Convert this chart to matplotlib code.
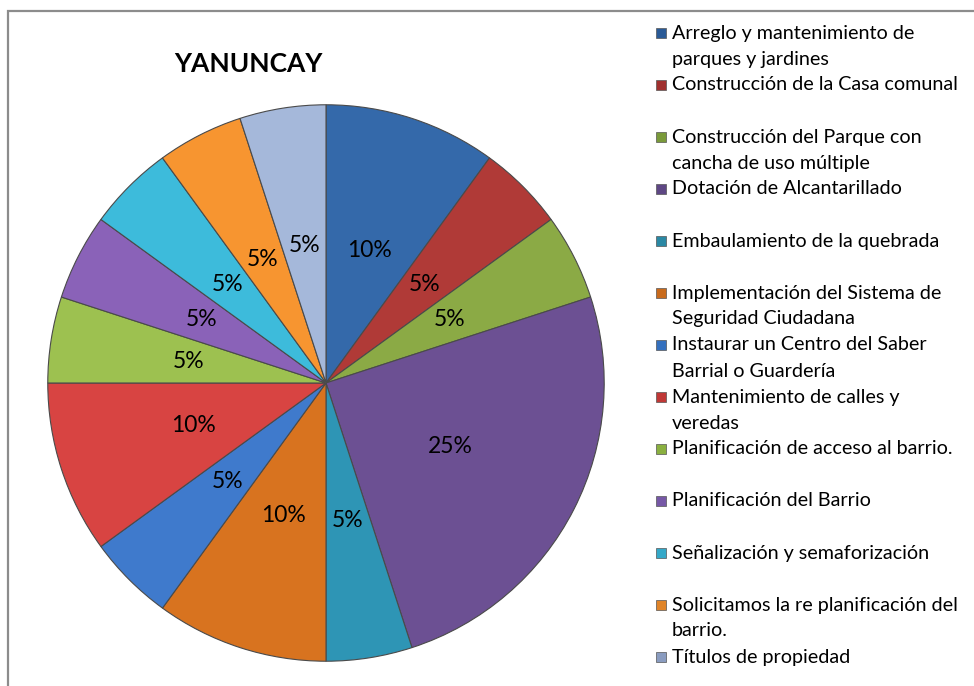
import matplotlib.pyplot as plt
from matplotlib.patches import Rectangle

categories = ['Arreglo y mantenimiento de\nparques y jardines',
              'Construcción de la Casa comunal',
              'Construcción del Parque con\ncancha de uso múltiple',
              'Dotación de Alcantarillado',
              'Embaulamiento de la quebrada',
              'Implementación del Sistema de\nSeguridad Ciudadana',
              'Instaurar un Centro del Saber\nBarrial o Guardería',
              'Mantenimiento de calles y\nveredas',
              'Planificación de acceso al barrio.',
              'Planificación del Barrio',
              'Señalización y semaforización',
              'Solicitamos la re planificación del\nbarrio.',
              'Títulos de propiedad']
values = [10, 5, 5, 25, 5, 10, 5, 10, 5, 5, 5, 5, 5]
colors = ['#3469AA', '#B03A37', '#8BAA45', '#6C5093', '#2E95B5', '#D8731F',
          '#3F7ACC', '#D84442', '#9DC150', '#8A62B8', '#3DBBDB', '#F79530',
          '#A5B8DA']
legend_colors = ['#2A5A96', '#A0302E', '#7A9A3A', '#5E4784', '#2A88A4', '#C86A1C',
                 '#3470BE', '#C03836', '#8AB040', '#7658A6', '#34A8C8', '#E08428',
                 '#8A9CC0']

plt.rcParams['font.family'] = ['Lato', 'DejaVu Sans']

W, H = 974, 686
fig = plt.figure(figsize=(W / 100, H / 100), dpi=100)

# chart frame (only left and top edges fall inside the image)
fig.patches.append(Rectangle((8 / W, -0.1), 1.2, 1 - 11 / H + 0.1,
                             transform=fig.transFigure, fill=False,
                             edgecolor='#8c8c8c', linewidth=1.6))

cx, cy, r = 326, 383, 281
ax = fig.add_axes([(cx - r) / W, 1 - (cy + r) / H, 2 * r / W, 2 * r / H])
wedges, texts, autotexts = ax.pie(values, colors=colors, startangle=90, counterclock=False,
                                  autopct='%1.0f%%', pctdistance=0.5,
                                  wedgeprops=dict(edgecolor='#4a4a4a', linewidth=0.8),
                                  textprops=dict(fontsize=16.5, color='black'))
ax.set_xlim(-1.01, 1.01)
ax.set_ylim(-1.01, 1.01)
ax.set_aspect('equal')

fig.text(248 / W, 1 - 64 / H, 'YANUNCAY', ha='center', va='center',
         fontsize=19, fontweight='bold', color='black')

# legend
y0 = 33
for i, (lab, c) in enumerate(zip(categories, legend_colors)):
    y = y0 + 52 * i
    fig.patches.append(Rectangle((656 / W, 1 - (y + 5) / H), 10 / W, 10 / H,
                                 transform=fig.transFigure, facecolor=c,
                                 edgecolor='#555555', linewidth=0.5))
    for j, line in enumerate(lab.split('\n')):
        fig.text(672 / W, 1 - (y + 26 * j) / H, line, ha='left', va='center',
                 fontsize=14.2, color='black')

fig.savefig('out.png', dpi=100)
